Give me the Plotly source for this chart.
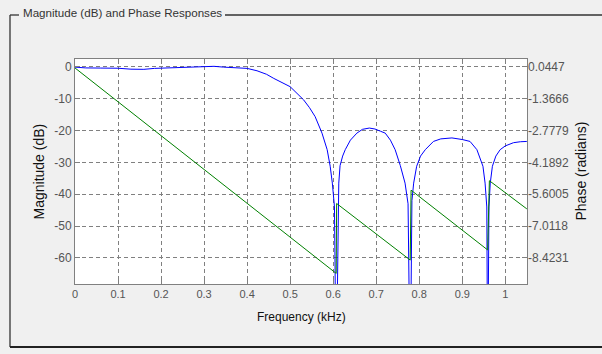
import plotly.graph_objects as go

# ---- data ----
freq_mag = [0.000, 0.025, 0.060, 0.100, 0.130, 0.160, 0.185, 0.220, 0.260, 0.300,
            0.323, 0.345, 0.375, 0.400, 0.423, 0.445, 0.462, 0.480, 0.500, 0.531,
            0.545, 0.558, 0.574, 0.586, 0.593, 0.598, 0.603, 0.607, 0.611, 0.613,
            0.616, 0.622, 0.628, 0.640, 0.655, 0.668, 0.684, 0.697, 0.710, 0.721,
            0.733, 0.744, 0.756, 0.767, 0.774, 0.779, 0.783, 0.787, 0.794, 0.803,
            0.814, 0.833, 0.850, 0.876, 0.900, 0.918, 0.934, 0.948, 0.953, 0.957,
            0.959, 0.962, 0.965, 0.970, 0.978, 0.988, 1.000, 1.019, 1.035, 1.050]
mag_db = [-0.05, -0.3, -0.35, -0.4, -0.7, -0.75, -0.45, -0.3, -0.15, -0.05,
          0.2, -0.05, -0.25, -0.45, -1.2, -2.3, -3.6, -4.8, -6.2, -10.3,
          -12.8, -15.6, -20.8, -26.0, -31.2, -36.5, -44.0, -100.0, -45.0, -36.5,
          -31.0, -28.0, -26.0, -23.0, -20.8, -19.6, -19.2, -19.5, -20.2, -20.8,
          -23.0, -26.0, -31.0, -36.5, -43.0, -100.0, -42.0, -36.5, -31.2, -28.0,
          -26.0, -23.4, -22.6, -22.3, -22.8, -23.4, -26.0, -31.2, -36.5, -44.0,
          -100.0, -44.0, -36.5, -31.2, -28.0, -26.0, -24.8, -23.8, -23.5, -23.4]

freq_phase = [0.0, 0.607, 0.608, 0.779, 0.781, 0.959, 0.963, 1.05]
phase_rad = [0.0, -9.11, -6.01, -8.52, -5.42, -8.07, -5.00, -6.25]

x_ticks = [0, 0.1, 0.2, 0.3, 0.4, 0.5, 0.6, 0.7, 0.8, 0.9, 1]
x_tick_labels = ["0", "0.1", "0.2", "0.3", "0.4", "0.5", "0.6", "0.7", "0.8", "0.9", "1"]
mag_ticks = [0, -10, -20, -30, -40, -50, -60]
mag_tick_labels = ["0", "-10", "-20", "-30", "-40", "-50", "-60"]
phase_ticks = [0.0447, -1.3666, -2.7779, -4.1892, -5.6005, -7.0118, -8.4231]
phase_tick_labels = ["0.0447", "-1.3666", "-2.7779", "-4.1892", "-5.6005", "-7.0118", "-8.4231"]

# ---- layout constants ----
W, H = 602, 354
L, R, T, B = 75, 75, 59, 70
X_RANGE = [0, 1.0504]
Y_RANGE = [-68.2, 2.5]
P0, K = 0.0447, 0.14113  # phase axis aligned with magnitude axis
Y2_RANGE = [P0 + K * Y_RANGE[0], P0 + K * Y_RANGE[1]]

pw, ph = W - L - R, H - T - B


def px(xp):
    return (xp - L) / pw


def py(yp):
    return (H - B - yp) / ph


grid = "#808080"
axis_col = "#808080"

fig = go.Figure()
fig.add_trace(go.Scatter(x=freq_mag, y=mag_db, mode="lines",
                         line=dict(color="#0000ff", width=1), yaxis="y"))
fig.add_trace(go.Scatter(x=freq_phase, y=phase_rad, mode="lines",
                         line=dict(color="#008000", width=1), yaxis="y2"))

fig.update_layout(
    width=W, height=H,
    margin=dict(l=L, r=R, t=T, b=B, pad=0),
    paper_bgcolor="#f0f0f0",
    plot_bgcolor="#ffffff",
    showlegend=False,
    hovermode=False,
    font=dict(family="Arial, Liberation Sans, sans-serif", color="#4d4d4d"),
    xaxis=dict(range=X_RANGE, tickvals=x_ticks, ticktext=x_tick_labels,
               showgrid=True, gridcolor=grid, griddash="4px,3px", gridwidth=1,
               zeroline=False, showline=True, linecolor=axis_col, linewidth=1,
               mirror="ticks", ticks="inside", ticklen=5, tickcolor=axis_col,
               tickfont=dict(size=11, color="#555555")),
    yaxis=dict(range=Y_RANGE, tickvals=mag_ticks, ticktext=mag_tick_labels,
               showgrid=True, gridcolor=grid, griddash="4px,3px", gridwidth=1,
               zeroline=False, showline=True, linecolor=axis_col, linewidth=1,
               mirror="ticks", ticks="inside", ticklen=5, tickcolor=axis_col,
               tickfont=dict(size=12, color="#555555")),
    yaxis2=dict(range=Y2_RANGE, overlaying="y", side="right",
                tickvals=phase_ticks, ticktext=phase_tick_labels,
                showgrid=False, zeroline=False, showline=False, ticks="",
                tickfont=dict(size=12, color="#555555")),
)

# axis titles and panel title
fig.add_annotation(text="Magnitude (dB)", xref="paper", yref="paper",
                   x=px(38), y=0.5, textangle=-90, showarrow=False,
                   xanchor="center", yanchor="middle",
                   font=dict(size=14, color="#111111"))
fig.add_annotation(text="Phase (radians)", xref="paper", yref="paper",
                   x=px(580), y=0.5, textangle=-90, showarrow=False,
                   xanchor="center", yanchor="middle",
                   font=dict(size=14, color="#111111"))
fig.add_annotation(text="Frequency (kHz)", xref="paper", yref="paper",
                   x=px(301), y=py(316.5), showarrow=False,
                   xanchor="center", yanchor="middle",
                   font=dict(size=12, color="#111111"))
fig.add_annotation(text="Magnitude (dB) and Phase Responses", xref="paper", yref="paper",
                   x=px(21), y=py(12), showarrow=False,
                   xanchor="left", yanchor="middle",
                   font=dict(size=11.6, color="#333333"))

# group-box frame
frame = dict(color="#333333", width=1.3)
fig.add_shape(type="line", xref="paper", yref="paper", x0=px(10), x1=px(19), y0=py(15), y1=py(15), line=frame)
fig.add_shape(type="line", xref="paper", yref="paper", x0=px(225), x1=px(640), y0=py(15), y1=py(15), line=frame)
fig.add_shape(type="line", xref="paper", yref="paper", x0=px(10), x1=px(10), y0=py(15), y1=py(347), line=frame)
fig.add_shape(type="line", xref="paper", yref="paper", x0=px(10), x1=px(640), y0=py(347), y1=py(347),
              line=dict(color="#222222", width=2))

fig.write_html("out.html")
